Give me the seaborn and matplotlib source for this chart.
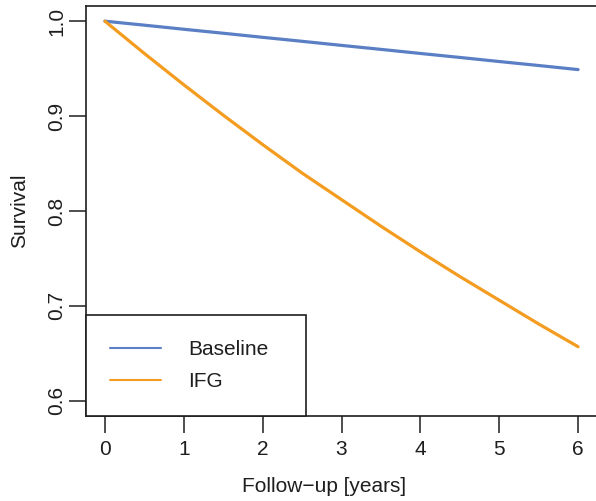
import matplotlib
matplotlib.use("Agg")
import matplotlib.pyplot as plt
import numpy as np
import pandas as pd
import seaborn as sns
from matplotlib.lines import Line2D
from matplotlib.patches import Rectangle

# Survival curves over follow-up
years = [0, 0.5, 1, 1.5, 2, 2.5, 3, 3.5, 4, 4.5, 5, 5.5, 6]
baseline = [1.0, 0.9958, 0.9915, 0.9873, 0.9830, 0.9788, 0.9745, 0.9703, 0.9660, 0.9618, 0.9575, 0.9533, 0.949]
ifg = [1.0, 0.966, 0.933, 0.901, 0.870, 0.840, 0.812, 0.784, 0.757, 0.731, 0.706, 0.681, 0.657]
groups = ["Baseline", "IFG"]
x_ticks = [0, 1, 2, 3, 4, 5, 6]
y_ticks = [0.6, 0.7, 0.8, 0.9, 1.0]
y_tick_labels = ["0.6", "0.7", "0.8", "0.9", "1.0"]

BLUE = "#5b7fc4"
ORANGE = "#f49c20"
INK = "#1e1e1e"
FS = 15

df = pd.DataFrame({
    "year": years + years,
    "survival": baseline + ifg,
    "group": [groups[0]] * len(years) + [groups[1]] * len(years),
})

sns.set_theme(style="ticks")
plt.rcParams["font.family"] = ["Liberation Sans", "DejaVu Sans"]

W, H = 596, 501
fig = plt.figure(figsize=(W / 100, H / 100), dpi=100)
left_px, right_px, top_px, bottom_px = 86, 597, 6, 416
ax = fig.add_axes([left_px / W, (H - bottom_px) / H,
                   (right_px - left_px) / W, (bottom_px - top_px) / H])

sns.lineplot(data=df, x="year", y="survival", hue="group",
             palette=[BLUE, ORANGE], linewidth=2.3, legend=False,
             solid_capstyle="round", ax=ax)

ax.set_xlim(-0.24, 6.24)
ax.set_ylim(0.584, 1.016)
ax.set_xticks(x_ticks)
ax.set_xticklabels([str(t) for t in x_ticks])
ax.set_yticks(y_ticks)
ax.set_yticklabels(y_tick_labels)

for side in ["top", "right", "bottom", "left"]:
    ax.spines[side].set_visible(True)
    ax.spines[side].set_color(INK)
    ax.spines[side].set_linewidth(1.2)

ax.tick_params(axis="both", length=12.5, width=1.1, color=INK,
               labelsize=FS, labelcolor=INK)
ax.tick_params(axis="x", pad=5)
ax.tick_params(axis="y", pad=1.5)
for lbl in ax.get_yticklabels():
    lbl.set_rotation(90)
    lbl.set_verticalalignment("center")
    lbl.set_horizontalalignment("right")

ax.set_xlabel("Follow\u2212up [years]", fontsize=FS, color=INK)
ax.set_ylabel("Survival", fontsize=FS, color=INK)
aw, ah = right_px - left_px, bottom_px - top_px
ax.xaxis.set_label_coords((324 - left_px) / aw, (bottom_px - 487) / ah)
ax.xaxis.label.set_verticalalignment("center")
ax.yaxis.set_label_coords((20 - left_px) / aw, 0.5)
ax.yaxis.label.set_verticalalignment("center")
ax.yaxis.label.set_horizontalalignment("center")

# Legend box anchored in the lower-left corner
frame = Rectangle((0, 0), (306 - left_px) / aw, (bottom_px - 315) / ah,
                  transform=ax.transAxes, facecolor="white", edgecolor=INK,
                  linewidth=1.2, zorder=3, clip_on=False)
ax.add_patch(frame)
handles = [Line2D([], [], color=BLUE, linewidth=1.5),
           Line2D([], [], color=ORANGE, linewidth=1.5)]
leg = ax.legend(handles, groups, loc="center left",
                bbox_to_anchor=((110 - left_px) / aw, (bottom_px - 365.5) / ah),
                frameon=False, fontsize=FS, handlelength=2.45,
                handletextpad=1.3, labelspacing=0.62, borderpad=0,
                borderaxespad=0)
leg.set_zorder(4)
for t in leg.get_texts():
    t.set_color(INK)

fig.savefig("out.png", dpi=100)
